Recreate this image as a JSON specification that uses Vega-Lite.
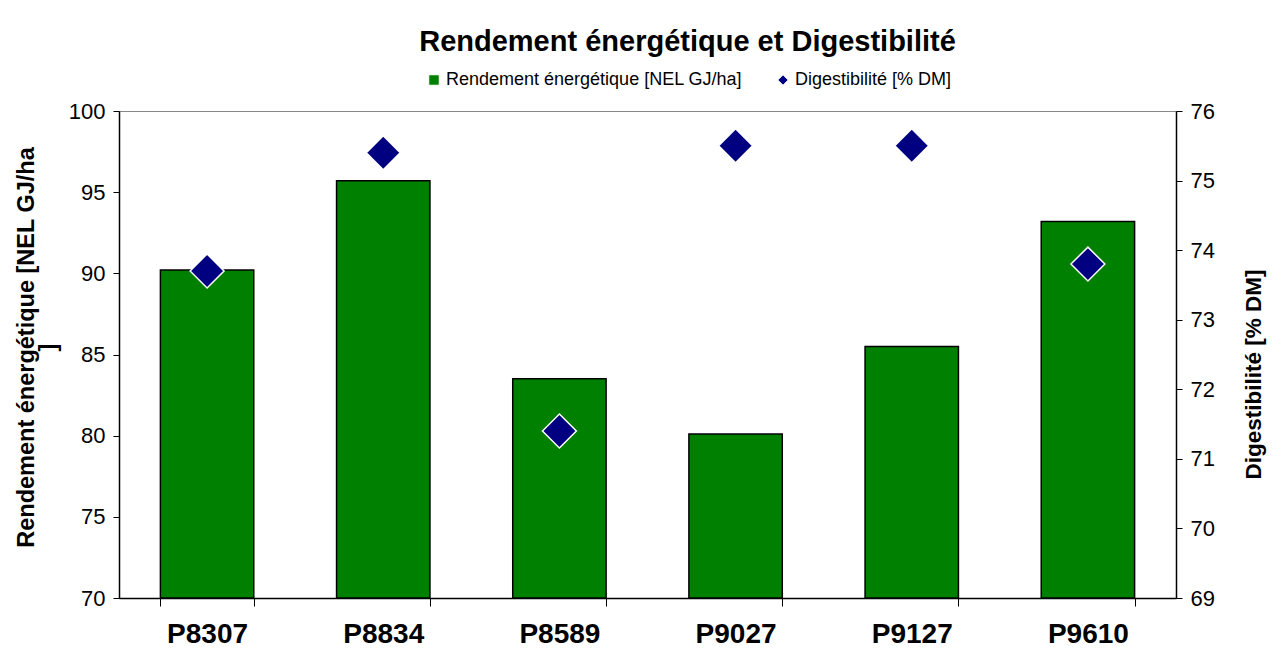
{
  "$schema": "https://vega.github.io/schema/vega-lite/v6.json",
  "width": 1057,
  "height": 487,
  "autosize": "none",
  "padding": {"left": 119, "top": 111, "right": 106, "bottom": 72},
  "background": "white",
  "config": {
    "font": "Liberation Sans",
    "view": {"stroke": "#888888", "strokeWidth": 1}
  },
  "title": {
    "text": "Rendement énergétique et Digestibilité",
    "font": "Liberation Sans",
    "fontSize": 29,
    "fontWeight": "bold",
    "color": "#000000",
    "anchor": "middle",
    "dx": 40,
    "offset": 14
  },
  "data": {
    "values": [
      {"variete": "P8307", "rendement": 90.2, "digest": 73.7},
      {"variete": "P8834", "rendement": 95.7, "digest": 75.4},
      {"variete": "P8589", "rendement": 83.5, "digest": 71.4},
      {"variete": "P9027", "rendement": 80.1, "digest": 75.5},
      {"variete": "P9127", "rendement": 85.5, "digest": 75.5},
      {"variete": "P9610", "rendement": 93.2, "digest": 73.8}
    ]
  },
  "encoding": {
    "x": {
      "field": "variete",
      "type": "nominal",
      "sort": null,
      "scale": {"paddingInner": 0.47, "paddingOuter": 0.235},
      "axis": {
        "title": null,
        "labelAngle": 0,
        "labelFontSize": 28,
        "labelFontWeight": "bold",
        "labelColor": "#000000",
        "labelPadding": 14,
        "tickBand": "extent",
        "tickSize": 8,
        "tickColor": "#000000",
        "domainColor": "#000000",
        "domainWidth": 1.5
      }
    }
  },
  "layer": [
    {
      "mark": {"type": "bar", "fill": "#008000", "stroke": "#000000", "strokeWidth": 1.5},
      "encoding": {
        "y": {
          "field": "rendement",
          "type": "quantitative",
          "scale": {"domain": [70, 100], "zero": false, "nice": false},
          "axis": {
            "values": [70, 75, 80, 85, 90, 95, 100],
            "title": ["Rendement énergétique [NEL GJ/ha", "]"],
            "titleFontSize": 23.5,
            "titleFontWeight": "bold",
            "titleColor": "#000000",
            "titleLineHeight": 22,
            "titlePadding": 8,
            "titleY": 236,
            "labelFontSize": 22,
            "labelColor": "#000000",
            "labelPadding": 8,
            "tickSize": 6,
            "tickColor": "#000000",
            "domainColor": "#000000",
            "domainWidth": 1.5,
            "grid": false
          }
        },
        "y2": {"datum": 70},
        "color": {
          "datum": "Rendement énergétique [NEL GJ/ha]",
          "scale": {
            "domain": ["Rendement énergétique [NEL GJ/ha]", "Digestibilité [% DM]"],
            "range": ["#008000", "#000080"]
          },
          "legend": {
            "title": null,
            "orient": "none",
            "direction": "horizontal",
            "legendX": 306,
            "legendY": -40,
            "labelFontSize": 18,
            "labelColor": "#000000",
            "labelFont": "Liberation Sans",
            "labelLimit": 0,
            "symbolSize": 110,
            "symbolStrokeColor": "#000000",
            "symbolStrokeWidth": 1,
            "symbolOpacity": 1,
            "columnPadding": 31,
            "labelOffset": 3
          }
        }
      }
    },
    {
      "mark": {"type": "point", "filled": true, "size": 1150, "stroke": "#ffffff", "strokeWidth": 1.5, "opacity": 1},
      "encoding": {
        "y": {
          "field": "digest",
          "type": "quantitative",
          "scale": {"domain": [69, 76], "zero": false, "nice": false},
          "axis": {
            "orient": "right",
            "values": [69, 70, 71, 72, 73, 74, 75, 76],
            "title": "Digestibilité [% DM]",
            "titleAngle": -90,
            "titleFontSize": 22.5,
            "titleFontWeight": "bold",
            "titleColor": "#000000",
            "titlePadding": 51,
            "titleY": 263,
            "labelFontSize": 22,
            "labelColor": "#000000",
            "labelPadding": 8,
            "tickSize": 6,
            "tickColor": "#000000",
            "domainColor": "#000000",
            "domainWidth": 1.5,
            "grid": false
          }
        },
        "color": {"datum": "Digestibilité [% DM]"},
        "shape": {
          "datum": "Digestibilité [% DM]",
          "scale": {
            "domain": ["Rendement énergétique [NEL GJ/ha]", "Digestibilité [% DM]"],
            "range": ["square", "diamond"]
          },
          "legend": {
            "title": null,
            "orient": "none",
            "direction": "horizontal",
            "legendX": 306,
            "legendY": -40,
            "labelFontSize": 18,
            "labelColor": "#000000",
            "labelFont": "Liberation Sans",
            "labelLimit": 0,
            "symbolSize": 110,
            "symbolStrokeColor": "#000000",
            "symbolStrokeWidth": 1,
            "symbolOpacity": 1,
            "columnPadding": 31,
            "labelOffset": 3
          }
        }
      }
    }
  ],
  "resolve": {"scale": {"y": "independent"}}
}
